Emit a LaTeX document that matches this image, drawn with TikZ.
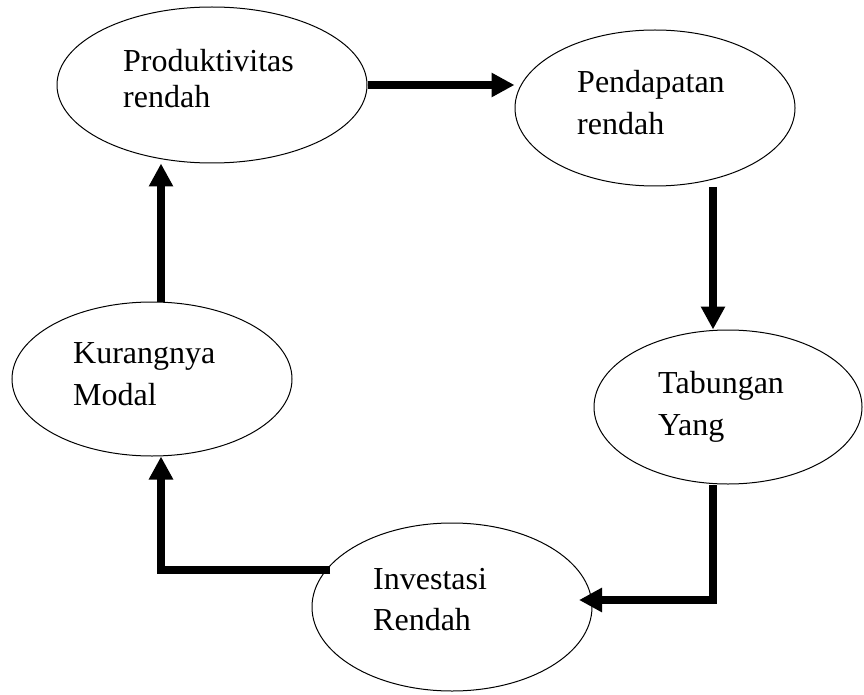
\documentclass[tikz,border=0pt]{standalone}
\usepackage{fontspec}
\setmainfont{Liberation Serif}
\usetikzlibrary{arrows.meta,shapes.geometric}
\begin{document}
\begin{tikzpicture}[x=1pt,y=-1pt,
  oval/.style={draw,ellipse,line width=1pt,inner sep=0pt},
  lbl/.style={anchor=base west,inner sep=0pt,font=\fontsize{32}{38}\selectfont},
  arr/.style={line width=8pt,line join=miter,-{Triangle[length=23pt,width=23pt]}}]
\useasboundingbox (0,0) rectangle (864,695);
\node[oval,minimum width=310pt,minimum height=156pt] (E1) at (212,85) {};
\node[oval,minimum width=280pt,minimum height=156pt] (E2) at (655,108) {};
\node[oval,minimum width=280pt,minimum height=154pt] (E3) at (152,379) {};
\node[oval,minimum width=268pt,minimum height=154pt] (E4) at (728,407) {};
\node[oval,minimum width=280pt,minimum height=168pt] (E5) at (452,607) {};
\node[lbl] (t1a) at (123,72) {Produktivitas};
\node[lbl] (t1b) at (123,108) {rendah};
\node[lbl] (t2a) at (577,93) {Pendapatan};
\node[lbl] (t2b) at (577,135) {rendah};
\node[lbl] (t3a) at (73,363) {Kurangnya};
\node[lbl] (t3b) at (73,405) {Modal};
\node[lbl] (t4a) at (658,393) {Tabungan};
\node[lbl] (t4b) at (658,435) {Yang};
\node[lbl] (t5a) at (373,589) {Investasi};
\node[lbl] (t5b) at (373,630) {Rendah};
\coordinate (a2s) at (713,187);
\coordinate (a3s) at (713,485);
\coordinate (a3c) at (713,600);
\coordinate (a3e) at (579,600);
\coordinate (a4s) at (330,570);
\coordinate (a4c) at (161,570);
\coordinate (a5s) at (161,302);
\draw[arr] (E1.east) -- (E1.east -| E2.west);
\draw[arr] (a2s) -- (a2s |- E4.north);
\draw[arr] (a3s) -- (a3c) -- (a3e);
\draw[arr] (a4s) -- (a4c) -- (a4c |- E3.south);
\draw[arr] (a5s) -- (a5s |- E1.south);
\end{tikzpicture}
\end{document}
